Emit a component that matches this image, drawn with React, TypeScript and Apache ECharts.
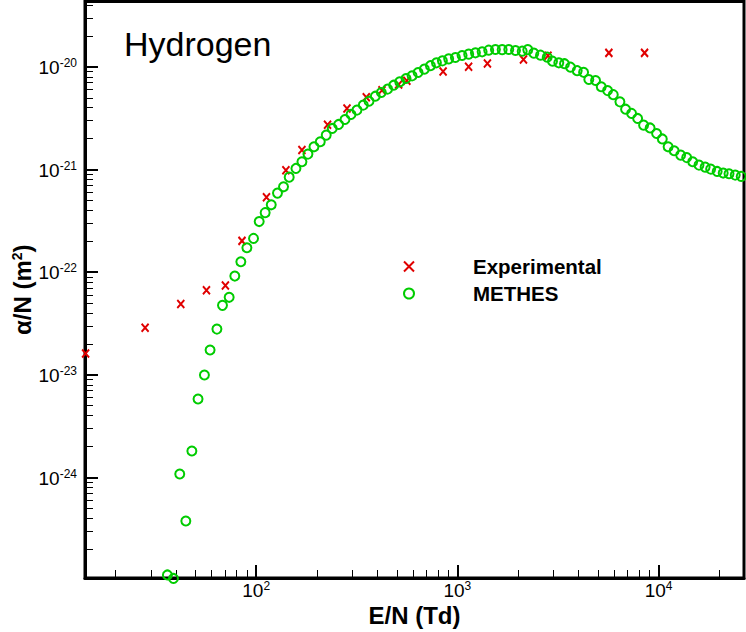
import React, { useEffect, useRef } from 'react';
import * as echarts from 'echarts';

const FONT = "'Liberation Sans', Arial, Helvetica, sans-serif";
const RED = '#e00000';
const GREEN = '#00cc00';
const X_PATH = 'path://M0,0L10,10M10,0L0,10';

// Experimental data: E/N (Td) and alpha/N (m^2)
const expE = [14.2, 28.05, 42.2, 56.6, 70.3, 85.0, 112.5, 140.5, 168.8, 226.3, 282.7, 352.5, 422, 510.5, 560.8, 849, 1137, 1410, 2130, 2820, 5660, 8515];
const expAlpha = [1.618e-23, 2.877e-23, 4.887e-23, 6.65e-23, 7.41e-23, 2.018e-22, 5.38e-22, 9.86e-22, 1.545e-21, 2.735e-21, 3.936e-21, 5.07e-21, 5.93e-21, 6.74e-21, 7.34e-21, 9.02e-21, 1.0e-20, 1.079e-20, 1.18e-20, 1.285e-20, 1.368e-20, 1.368e-20];

// METHES simulation
const methesE = [
  36.2, 38.8, 41.7, 44.7, 47.9, 51.4, 55.3, 59.0, 63.8, 68.0,
  73.4, 78.3, 83.9, 89.9, 97.0, 103.5, 110.8, 118.8, 127.6, 136.7,
  145.9, 157.6, 168.8, 180.8, 193.7, 208.2, 222.9, 238.8, 256.8, 276.3,
  296.0, 316.9, 340.7, 363.7, 390.9, 418.8, 450, 482.2, 516.6, 555.6,
  595.3, 637.7, 685.3, 734.3, 786.5, 842.2, 905, 977.2, 1055, 1138,
  1229, 1327, 1431, 1545, 1669, 1800, 1944, 2099, 2238, 2397,
  2588, 2795, 2969, 3191, 3406, 3649, 3939, 4237, 4499, 4860,
  5187, 5576, 5952, 6422, 6852, 7340, 7865, 8422, 9074, 9772,
  10430, 11150, 11950, 12870, 13790, 14770, 15870, 17030, 18140, 19540,
  20940, 22380, 24030, 25730,
];
const methesAlpha = [
  1.125e-25, 1.04e-25, 1.081e-24, 3.77e-25, 1.811e-24, 5.81e-24, 9.95e-24, 1.744e-23, 2.79e-23, 4.75e-23,
  5.69e-23, 9.16e-23, 1.263e-22, 1.729e-22, 2.133e-22, 3.11e-22, 3.80e-22, 4.53e-22, 5.89e-22, 6.78e-22,
  8.43e-22, 1.025e-21, 1.189e-21, 1.413e-21, 1.663e-21, 1.861e-21, 2.163e-21, 2.513e-21, 2.749e-21, 3.074e-21,
  3.44e-21, 3.79e-21, 4.24e-21, 4.63e-21, 5.18e-21, 5.63e-21, 6.07e-21, 6.63e-21, 7.14e-21, 7.71e-21,
  8.17e-21, 8.82e-21, 9.50e-21, 1.027e-20, 1.094e-20, 1.144e-20, 1.196e-20, 1.235e-20, 1.291e-20, 1.33e-20,
  1.369e-20, 1.40e-20, 1.454e-20, 1.477e-20, 1.471e-20, 1.477e-20, 1.444e-20, 1.422e-20, 1.471e-20, 1.36e-20,
  1.30e-20, 1.243e-20, 1.136e-20, 1.094e-20, 1.074e-20, 9.93e-21, 9.18e-21, 8.84e-21, 7.54e-21, 7.37e-21,
  6.39e-21, 5.87e-21, 5.36e-21, 4.56e-21, 3.87e-21, 3.52e-21, 3.145e-21, 2.706e-21, 2.541e-21, 2.246e-21,
  1.986e-21, 1.663e-21, 1.521e-21, 1.381e-21, 1.306e-21, 1.189e-21, 1.104e-21, 1.055e-21, 1.009e-21, 9.58e-22,
  9.23e-22, 9.08e-22, 8.82e-22, 8.57e-22,
];

const xTickExponents = [2, 3, 4];
const yTickExponents = [-24, -23, -22, -21, -20];
const xRange = [14.1, 26570];
const yRange = [1.05e-25, 4.33e-20];

function minorTicks(lo: number, hi: number): number[] {
  const out: number[] = [];
  for (let d = Math.floor(Math.log10(lo)); d <= Math.ceil(Math.log10(hi)); d++) {
    for (let m = 2; m <= 9; m++) {
      const v = m * Math.pow(10, d);
      if (v > lo && v < hi) out.push(v);
    }
  }
  return out;
}

const xMajor = xTickExponents.map((e) => Math.pow(10, e));
const yMajor = yTickExponents.map((e) => Math.pow(10, e));
const xMinor = minorTicks(xRange[0], xRange[1]);
const yMinor = minorTicks(yRange[0], yRange[1]);

const supLabel = (v: number) => {
  const e = Math.round(Math.log10(v));
  return `{b|10}{s|${e}}`;
};

const richLabel = {
  b: { fontFamily: FONT, fontSize: 19, lineHeight: 20, verticalAlign: 'bottom', color: '#000' },
  s: { fontFamily: FONT, fontSize: 12, lineHeight: 12, verticalAlign: 'top', padding: [0, 0, 12, 0], color: '#000' },
};

const minorAxisCommon = {
  type: 'log',
  axisLine: { show: false },
  axisLabel: { show: false },
  splitLine: { show: false },
};

export default function App() {
  const ref = useRef<HTMLDivElement>(null);
  useEffect(() => {
    const chart = echarts.init(ref.current!, null, { renderer: 'svg' });
    const option: any = {
      animation: false,
      backgroundColor: '#ffffff',
      textStyle: { fontFamily: FONT },
      title: {
        text: 'Hydrogen',
        left: 124,
        top: 27,
        padding: 0,
        textStyle: { fontFamily: FONT, fontSize: 34, fontWeight: 'normal', color: '#000' },
      },
      legend: {
        orient: 'vertical',
        left: 403,
        top: 256,
        padding: 0,
        itemWidth: 118,
        itemHeight: 10,
        itemGap: 6,
        selectedMode: false,
        textStyle: { fontFamily: FONT, fontSize: 20.5, fontWeight: 'bold', color: '#000', lineHeight: 20 },
        data: [
          { name: 'Experimental', icon: X_PATH, itemStyle: { color: RED, borderColor: RED, borderWidth: 2 } },
          { name: 'METHES', icon: 'circle', itemStyle: { color: 'rgba(0,0,0,0)', borderColor: GREEN, borderWidth: 2 } },
        ],
      },
      grid: {
        left: 85,
        right: 2,
        top: 1.5,
        bottom: 54,
        show: true,
        borderColor: '#000',
        borderWidth: 3,
        backgroundColor: 'rgba(0,0,0,0)',
        containLabel: false,
        outerBoundsMode: 'none',
      },
      xAxis: [
        {
          type: 'log',
          min: xRange[0],
          max: xRange[1],
          position: 'bottom',
          axisLine: { show: true, lineStyle: { color: '#000', width: 3 } },
          axisTick: { show: true, inside: true, length: 13, lineStyle: { color: '#000', width: 2 }, customValues: xMajor },
          axisLabel: { show: true, margin: 2, customValues: xMajor, formatter: supLabel, rich: richLabel, color: '#000' },
          splitLine: { show: false },
          name: 'E/N (Td)',
          nameLocation: 'middle',
          nameGap: 25,
          nameMoveOverlap: false,
          nameTextStyle: { fontFamily: FONT, fontSize: 24, fontWeight: 'bold', color: '#000' },
        },
        {
          ...minorAxisCommon,
          min: xRange[0],
          max: xRange[1],
          position: 'bottom',
          axisTick: { show: true, inside: true, length: 8, lineStyle: { color: '#000', width: 1 }, customValues: xMinor },
        },
      ],
      yAxis: [
        {
          type: 'log',
          min: yRange[0],
          max: yRange[1],
          position: 'left',
          axisLine: { show: true, lineStyle: { color: '#000', width: 3 } },
          axisTick: { show: true, inside: true, length: 13, lineStyle: { color: '#000', width: 2 }, customValues: yMajor },
          axisLabel: { show: true, margin: 8, customValues: yMajor, formatter: supLabel, rich: richLabel, color: '#000' },
          splitLine: { show: false },
          name: 'α/N (m{sup|2})',
          nameLocation: 'middle',
          nameGap: 51,
          nameMoveOverlap: false,
          nameTextStyle: {
            fontFamily: FONT,
            fontSize: 24,
            fontWeight: 'bold',
            color: '#000',
            rich: {
              sup: { fontFamily: FONT, fontSize: 14, fontWeight: 'bold', color: '#000', lineHeight: 14, verticalAlign: 'top', padding: [0, 0, 10, 0] },
            },
          },
        },
        {
          ...minorAxisCommon,
          min: yRange[0],
          max: yRange[1],
          position: 'left',
          axisTick: { show: true, inside: true, length: 8, lineStyle: { color: '#000', width: 1 }, customValues: yMinor },
        },
      ],
      series: [
        {
          name: 'Experimental',
          type: 'scatter',
          xAxisIndex: 0,
          yAxisIndex: 0,
          data: expE.map((e, i) => [e, expAlpha[i]]),
          symbol: X_PATH,
          symbolSize: [7, 8],
          itemStyle: { color: RED, borderColor: RED, borderWidth: 2, opacity: 1 },
          clip: false,
          z: 2,
        },
        {
          name: 'METHES',
          type: 'scatter',
          xAxisIndex: 0,
          yAxisIndex: 0,
          data: methesE.map((e, i) => [e, methesAlpha[i]]),
          symbol: 'circle',
          symbolSize: 9,
          itemStyle: { color: 'rgba(0,0,0,0)', borderColor: GREEN, borderWidth: 2, opacity: 1 },
          clip: false,
          z: 3,
        },
      ],
    };
    chart.setOption(option);
    return () => chart.dispose();
  }, []);
  return (
    <div
      ref={ref}
      style={{ position: 'fixed', left: 0, top: 0, width: 746, height: 632, background: '#fff' }}
    />
  );
}
